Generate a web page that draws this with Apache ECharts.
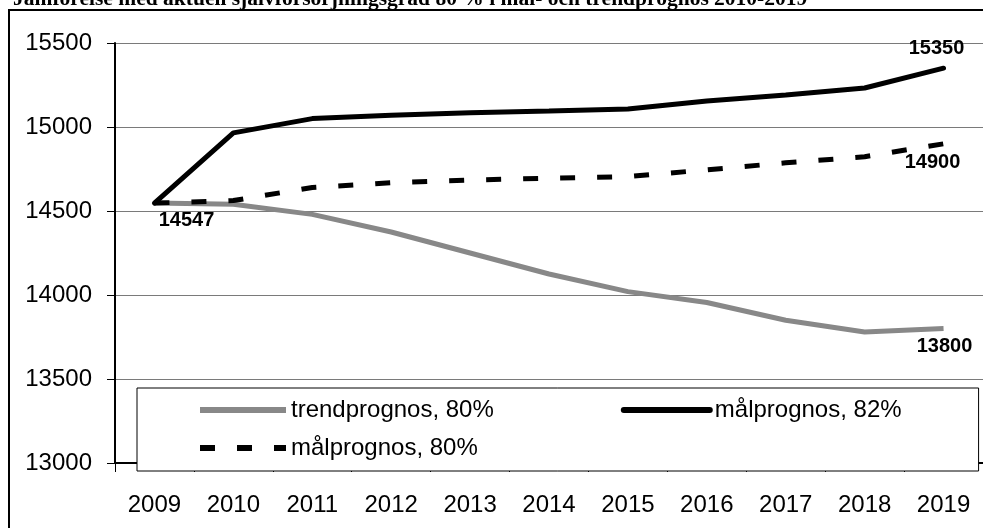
<!DOCTYPE html>
<html>
<head>
<meta charset="utf-8">
<script src="https://cdn.jsdelivr.net/npm/echarts@6/dist/echarts.min.js"></script>
<style>html,body{margin:0;padding:0;background:#fff;}#c{width:983px;height:528px;}</style>
</head>
<body>
<div id="c"></div>
<script>
const titleText = 'Jämförelse med aktuell självförsörjningsgrad 80 % i mål- och trendprognos 2010-2019';
const years = ['2009','2010','2011','2012','2013','2014','2015','2016','2017','2018','2019'];
const trend80 = [14547, 14540, 14480, 14375, 14250, 14125, 14020, 13955, 13850, 13780, 13800];
const mal82 = [14547, 14965, 15050, 15070, 15085, 15095, 15107, 15155, 15190, 15232, 15350];
const mal80 = [14547, 14562, 14640, 14668, 14684, 14695, 14705, 14745, 14787, 14823, 14900];
const seriesNames = ['trendprognos, 80%', 'målprognos, 82%', 'målprognos, 80%'];

const font = "'Liberation Sans', Arial, sans-serif";
function withLabel(arr, idx, cfg) {
  return arr.map((v, i) => {
    const val = (v && typeof v === 'object') ? v : { value: v };
    if (i === idx) {
      val.label = Object.assign({ show: true, formatter: '{c}', fontFamily: font, fontWeight: 'bold', fontSize: 20, color: '#000' }, cfg);
    }
    return val;
  });
}
const chart = echarts.init(document.getElementById('c'), null, { renderer: 'canvas' });
const lineSeriesCommon = { type: 'line', symbol: 'circle', symbolSize: 0, showSymbol: true, label: { show: false } };
chart.setOption({
  animation: false,
  backgroundColor: '#fff',
  title: {
    text: titleText, left: 13, top: -12, padding: 0,
    textStyle: { fontFamily: "'Liberation Serif', 'Times New Roman', serif", fontWeight: 'bold', fontSize: 21.5, color: '#000' }
  },
  graphic: [{
    type: 'rect', z: -1, silent: true,
    shape: { x: 9, y: 10, width: 985, height: 530 },
    style: { fill: 'none', stroke: '#000', lineWidth: 2 }
  }],
  grid: { left: 115, top: 43, width: 869, height: 420 },
  xAxis: {
    type: 'category', data: years, boundaryGap: true,
    axisLine: { lineStyle: { color: '#000', width: 2 } },
    axisTick: { show: true, length: 9, lineStyle: { color: '#000', width: 1 } },
    axisLabel: { fontFamily: font, fontSize: 24, color: '#000', margin: 30 }
  },
  yAxis: {
    type: 'value', min: 13000, max: 15500, interval: 500,
    axisLine: { show: true, lineStyle: { color: '#000', width: 2 } },
    axisTick: { show: true, length: 8, lineStyle: { color: '#000', width: 1 } },
    axisLabel: { fontFamily: font, fontSize: 24, color: '#000', margin: 23, formatter: v => String(v) },
    splitLine: { lineStyle: { color: '#7a7a7a', width: 1 } }
  },
  legend: [{
    data: [seriesNames[0], seriesNames[1]],
    left: 137, top: 388, width: 950, orient: 'horizontal',
    padding: [9, 77, 48, 60],
    itemGap: 127, itemWidth: 86, itemHeight: 14,
    itemStyle: { opacity: 0 },
    lineStyle: { width: 6 },
    backgroundColor: '#fff', borderColor: '#000', borderWidth: 1, borderRadius: 0,
    textStyle: { fontFamily: font, fontSize: 24, color: '#000', lineHeight: 26 },
    selectedMode: false, z: 3
  }, {
    data: [seriesNames[2]],
    left: 137, top: 435, width: 900, orient: 'horizontal',
    padding: [0, 0, 0, 60],
    itemWidth: 86, itemHeight: 14,
    itemStyle: { opacity: 0 },
    lineStyle: { width: 6 },
    textStyle: { fontFamily: font, fontSize: 24, color: '#000', lineHeight: 26 },
    selectedMode: false, z: 5
  }],
  series: [Object.assign({}, lineSeriesCommon, {
    name: seriesNames[0],
    data: withLabel(trend80, 10, { position: 'bottom', distance: 8, offset: [1, 0] }),
    lineStyle: { color: '#888888', width: 5 }, itemStyle: { color: '#888888' }, z: 2
  }), Object.assign({}, lineSeriesCommon, {
    name: seriesNames[1],
    data: withLabel(mal82, 10, { position: 'top', distance: 10, offset: [-7, 0] }),
    lineStyle: { color: '#000', width: 5, cap: 'round' }, itemStyle: { color: '#000' }, z: 3
  }), Object.assign({}, lineSeriesCommon, {
    name: seriesNames[2],
    data: withLabel(withLabel(mal80, 10, { position: 'bottom', distance: 9, offset: [-11, 0] }), 0, { position: 'bottom', distance: 7, offset: [32, 0] }),
    lineStyle: { color: '#000', width: 5, type: [15, 22] }, itemStyle: { color: '#000' }, z: 4
  })]
});
</script>
</body>
</html>
